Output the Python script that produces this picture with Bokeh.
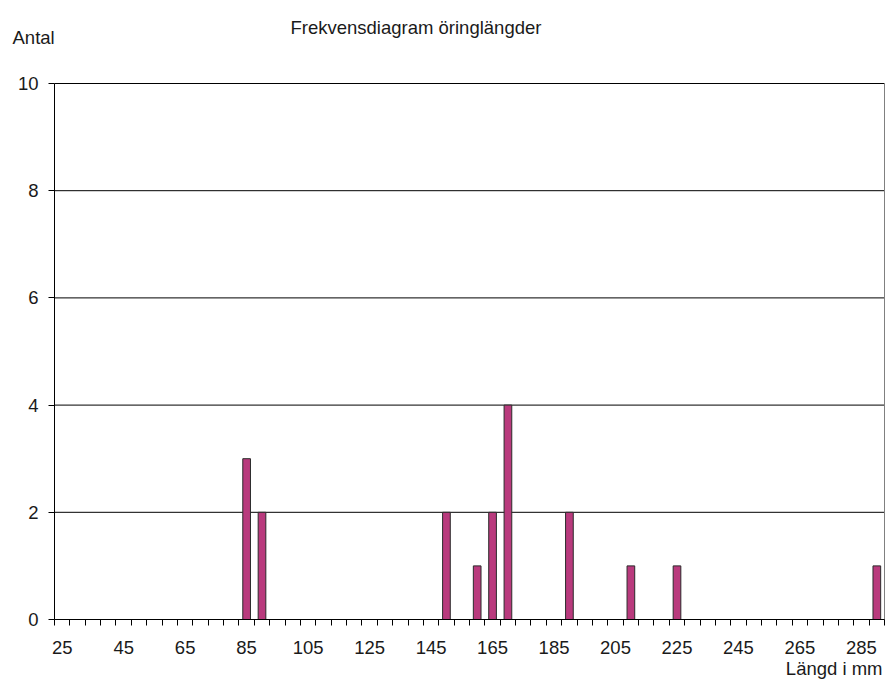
from bokeh.plotting import figure
from bokeh.models import ColumnDataSource, FixedTicker, Range1d, Label
from bokeh.embed import file_html
from bokeh.resources import INLINE

# ---- data ----
lengths = [25, 30, 35, 40, 45, 50, 55, 60, 65, 70, 75, 80, 85, 90, 95, 100, 105, 110,
           115, 120, 125, 130, 135, 140, 145, 150, 155, 160, 165, 170, 175, 180, 185,
           190, 195, 200, 205, 210, 215, 220, 225, 230, 235, 240, 245, 250, 255, 260,
           265, 270, 275, 280, 285, 290]
counts = [0, 0, 0, 0, 0, 0, 0, 0, 0, 0, 0, 0, 3, 2, 0, 0, 0, 0,
          0, 0, 0, 0, 0, 0, 0, 2, 0, 1, 2, 4, 0, 0, 0,
          2, 0, 0, 0, 1, 0, 0, 1, 0, 0, 0, 0, 0, 0, 0,
          0, 0, 0, 0, 0, 1]
x_tick_labels = [25, 45, 65, 85, 105, 125, 145, 165, 185, 205, 225, 245, 265, 285]
y_ticks = [0, 2, 4, 6, 8, 10]

title_text = "Frekvensdiagram öringlängder"
y_title = "Antal"
x_title = "Längd i mm"

FONT = "Liberation Sans"
FS = "18.5px"
TXT = "#1a1a1a"

# ---- layout (pixels on the canvas) ----
W, H = 889, 681
PL, PR, PT, PB = 54, 884, 83, 619   # plotting area edges

step = lengths[1] - lengths[0]
half = step / 2.0
x_start = lengths[0] - half
x_end = lengths[-1] + half
y_lo, y_hi = y_ticks[0], y_ticks[-1]

# the frame covers the whole canvas; the ranges are widened so that the
# data area lands on the plotting-area pixels
sx = (x_end - x_start) / (PR - PL)
sy = (y_hi - y_lo) / (PB - PT)
xr = Range1d(x_start - PL * sx, x_end + (W - PR) * sx)
yr = Range1d(y_lo - (H - PB) * sy, y_hi + PT * sy)

p = figure(width=W, height=H, output_backend="svg", toolbar_location=None,
           x_range=xr, y_range=yr)
p.min_border = 0
p.min_border_left = 0
p.min_border_right = 0
p.min_border_top = 0
p.min_border_bottom = 0
p.outline_line_color = None
p.background_fill_color = "white"
p.border_fill_color = "white"
p.xgrid.grid_line_color = None
p.ygrid.grid_line_color = None

# horizontal grid lines limited to the plotting area
grid_y = y_ticks[1:]
p.segment(x0=[x_start] * len(grid_y), y0=grid_y, x1=[x_end] * len(grid_y), y1=grid_y,
          line_color="black", line_width=1)
# right edge of the plotting area
p.segment(x0=[x_end], y0=[y_lo], x1=[x_end], y1=[y_hi], line_color="#808080", line_width=1)

src = ColumnDataSource(dict(x=lengths, top=counts))
p.vbar(x="x", top="top", bottom=0, width=step * 0.5, source=src,
       fill_color="#B93A7D", line_color="#2b2b2b", line_width=1)

# x axis
boundaries = [l - half for l in lengths] + [x_end]
p.xaxis.ticker = FixedTicker(ticks=x_tick_labels, minor_ticks=boundaries)
p.xaxis.fixed_location = y_lo
p.xaxis.bounds = (x_start, x_end)
p.xaxis.major_tick_out = 0
p.xaxis.major_tick_in = 0
p.xaxis.minor_tick_out = 6
p.xaxis.minor_tick_in = 0
p.xaxis.minor_tick_line_color = "black"
p.xaxis.axis_line_color = "black"
p.xaxis.major_label_standoff = 15
p.xaxis.major_label_text_font = FONT
p.xaxis.major_label_text_font_size = FS
p.xaxis.major_label_text_color = TXT

# y axis
p.yaxis.ticker = FixedTicker(ticks=y_ticks)
p.yaxis.fixed_location = x_start
p.yaxis.bounds = (y_lo, y_hi)
p.yaxis.major_tick_out = 6
p.yaxis.major_tick_in = 0
p.yaxis.minor_tick_out = 0
p.yaxis.minor_tick_in = 0
p.yaxis.axis_line_color = "black"
p.yaxis.major_tick_line_color = "black"
p.yaxis.major_label_standoff = 10
p.yaxis.major_label_text_font = FONT
p.yaxis.major_label_text_font_size = FS
p.yaxis.major_label_text_color = TXT

# texts (canvas pixels, y from the top)
for x, y, t, al in [(290, 27, title_text, "left"),
                    (12, 37, y_title, "left"),
                    (882, 668, x_title, "right")]:
    p.add_layout(Label(x=x, y=y, x_units="canvas", y_units="canvas", text=t,
                       text_align=al, text_baseline="alphabetic",
                       text_font=FONT, text_font_size=FS, text_color=TXT))

open("out.html", "w").write(file_html(p, INLINE))
